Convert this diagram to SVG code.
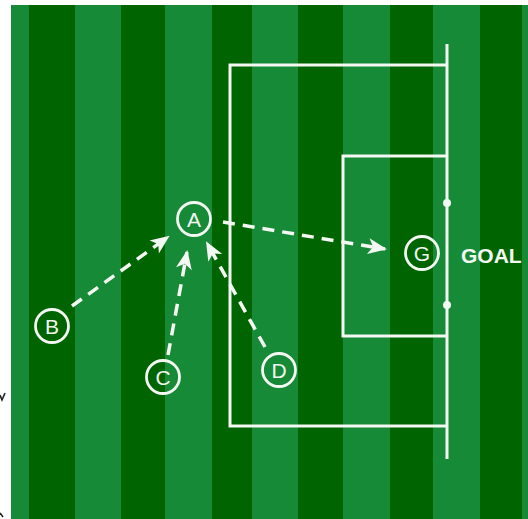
<svg xmlns="http://www.w3.org/2000/svg" width="528" height="519" viewBox="0 0 528 519">
<style>
.lt{fill:#178a38}
.dk{fill:#006400}
.ln{fill:none;stroke:#f4f8f2;stroke-width:3}
.pl circle{fill:none;stroke:#f4f8f2;stroke-width:2.8}
.pl text{font-family:"Liberation Sans",Arial,sans-serif;font-size:21px;fill:#f4f8f2;text-anchor:middle}
.mv{fill:none;stroke:#f4f8f2;stroke-width:3.5;stroke-dasharray:12 8;marker-end:url(#ah)}
</style>
<defs>
<marker id="ah" markerUnits="userSpaceOnUse" markerWidth="24" markerHeight="20" viewBox="-20 -10 24 20" refX="0" refY="0" orient="auto">
<path d="M2,0 L-17,-8 L-12,0 L-17,8 z" fill="#f4f8f2"/>
</marker>
</defs>
<rect width="528" height="519" fill="#ffffff"/>
<g id="field">
<rect class="lt" x="11" y="5" width="517" height="514"/>
<rect class="dk" x="29" y="5" width="46" height="514"/>
<rect class="dk" x="121" y="5" width="44" height="514"/>
<rect class="dk" x="212" y="5" width="40" height="514"/>
<rect class="dk" x="298" y="5" width="45" height="514"/>
<rect class="dk" x="390" y="5" width="43" height="514"/>
<rect class="dk" x="480" y="5" width="42" height="514"/>
</g>
<g id="marks" stroke="#222" stroke-width="1.6" fill="none">
<path d="M0,395 L2,400 L5,393"/>
<path d="M0,513 L3,517"/>
</g>
<g id="pitch">
<path class="ln" d="M447,44 V459"/>
<path class="ln" d="M447,65 H230 V426 H447"/>
<path class="ln" d="M447,156 H343 V336 H447"/>
<circle cx="447" cy="203" r="4" fill="#f4f8f2"/>
<circle cx="447" cy="305" r="4" fill="#f4f8f2"/>
<text x="461" y="263" font-family="Liberation Sans,Arial,sans-serif" font-weight="bold" font-size="21" fill="#f4f8f2">GOAL</text>
</g>
<g id="connectors">
<path class="mv" d="M72,306 L168,237"/>
<path class="mv" d="M168,355 L187,252"/>
<path class="mv" d="M265,347 L207,243"/>
<path class="mv" d="M223,222 L385,249"/>
</g>
<g id="A" class="pl"><circle cx="194" cy="219" r="16.5"/><text x="194" y="226.5">A</text></g>
<g id="B" class="pl"><circle cx="52" cy="326" r="16.5"/><text x="52" y="333.5">B</text></g>
<g id="C" class="pl"><circle cx="163" cy="377" r="16.5"/><text x="163" y="384.5">C</text></g>
<g id="D" class="pl"><circle cx="279" cy="370" r="16.5"/><text x="279" y="377.5">D</text></g>
<g id="G" class="pl"><circle cx="422" cy="253" r="16.5"/><text x="422" y="260.5">G</text></g>
</svg>
